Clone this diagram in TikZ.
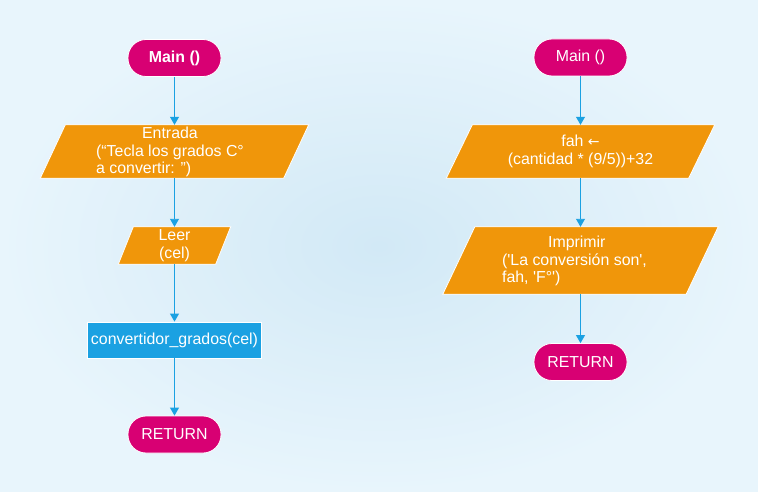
\documentclass[tikz,border=0pt]{standalone}
\usepackage{fontspec}
\setmainfont{Liberation Sans}[Ligatures=TeXOff]
\newfontfamily\arrfont{DejaVu Sans}
\usetikzlibrary{arrows.meta,backgrounds,calc}
\definecolor{mag}{HTML}{D80073}
\definecolor{org}{HTML}{F0960A}
\definecolor{blu}{HTML}{1BA1E2}
\definecolor{bgin}{HTML}{D2E9F6}
\definecolor{bgout}{HTML}{E8F5FC}
\newcommand\para[2]{%
  \fill[org, draw=white, line width=0.8pt]
    ([xshift=#2pt]#1.north west) -- ([xshift=#2pt]#1.north east) --
    ([xshift=-#2pt]#1.south east) -- ([xshift=-#2pt]#1.south west) -- cycle;}
\tikzset{
  txt/.style={text=white, font=\fontsize{15.9}{17.8}\selectfont, inner sep=0pt},
  term/.style={txt, rectangle, rounded corners=18pt, fill=mag, draw=white, line width=0.8pt, minimum width=93pt, minimum height=37pt},
  io/.style={txt, rectangle, minimum width=#1},
  procbox/.style={txt, rectangle, fill=blu, draw=white, line width=0.8pt, minimum width=174pt, minimum height=36pt},
  conn/.style={draw=blu, line width=0.9pt, -{Triangle[width=9pt,length=8pt]}}
}
\begin{document}
\begin{tikzpicture}[x=1pt,y=-1pt]
\useasboundingbox (0,0) rectangle (758,492);
\begin{scope}[on background layer]
  \shade[inner color=bgin, outer color=bgout] (0,0) rectangle (758,492);
\end{scope}
% left column
\node[term, font=\fontsize{15.9}{17.8}\selectfont\bfseries] (m1) at (174.5,58) {Main ()};
\node[io=243pt, minimum height=53pt] (e1) at (174.5,151.5) {};
\node[txt, align=left] (e1t) at (170,152)
  {\hspace*{46pt}Entrada\\(“Tecla los grados C°\\a convertir: ”)};
\node[io=97pt, minimum height=37pt, align=center] (l1) at (174.5,245.5) {Leer\\(cel)};
\node[procbox] (c1) at (174.5,340) {convertidor\_grados(cel)};
\node[term] (r1) at (174.5,434.5) {RETURN};
% right column
\node[term] (m2) at (580.5,57.5) {Main ()};
\node[io=242pt, minimum height=53pt, align=center] (f2) at (580.5,151.5)
  {fah {\arrfont\fontsize{14}{17.8}\selectfont ←}\\(cantidad * (9/5))+32};
\node[io=243pt, minimum height=67pt] (p2) at (580.5,260.5) {};
\node[txt, align=left] (p2t) at (574.5,261)
  {\hspace*{46pt}Imprimir\\('La conversión son',\\fah, 'F°')};
\node[term] (r2) at (580.5,362) {RETURN};
\begin{scope}[on background layer]
  \para{e1}{12.5}
  \para{l1}{7.5}
  \para{f2}{13}
  \para{p2}{16}
\end{scope}
\draw[conn] (m1.south) -- (e1.north);
\draw[conn] (e1.south) -- (l1.north);
\draw[conn] (l1.south) -- (c1.north);
\draw[conn] (c1.south) -- (r1.north);
\draw[conn] (m2.south) -- (f2.north);
\draw[conn] (f2.south) -- (p2.north);
\draw[conn] (p2.south) -- (r2.north);
\end{tikzpicture}
\end{document}
